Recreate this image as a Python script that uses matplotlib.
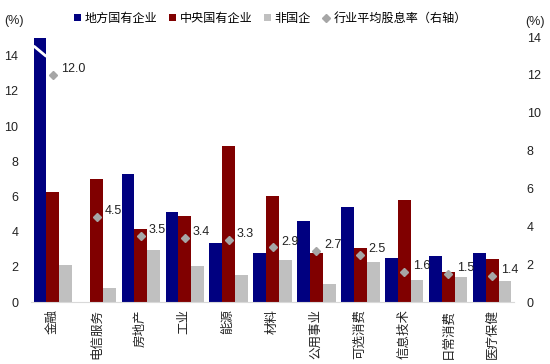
import numpy as np
from matplotlib import pyplot as plt

plt.rcParams['font.family'] = ['Liberation Sans', 'Noto Sans CJK SC']

categories = ['金融', '电信服务', '房地产', '工业', '能源', '材料',
              '公用事业', '可选消费', '信息技术', '日常消费', '医疗保健']
local_soe = [15.0, 0.0, 7.27, 5.1, 3.37, 2.8, 4.6, 5.42, 2.5, 2.6, 2.77]
central_soe = [6.23, 7.0, 4.13, 4.9, 8.88, 6.02, 2.8, 3.1, 5.8, 1.72, 2.43]
non_soe = [2.1, 0.83, 2.95, 2.06, 1.53, 2.39, 1.04, 2.27, 1.27, 1.4, 1.21]
avg_yield = [12.0, 4.5, 3.5, 3.4, 3.3, 2.9, 2.7, 2.5, 1.6, 1.5, 1.4]

fig = plt.figure(figsize=(5.5, 3.64), dpi=100)
ax = fig.add_axes([0.056, 0.170, 0.879, 0.728])
ax2 = ax.twinx()

x = np.arange(len(categories))
w = 0.29
b1 = ax.bar(x - w, local_soe, w, color='#000080', label='地方国有企业')
b2 = ax.bar(x, central_soe, w, color='#800000', label='中央国有企业')
b3 = ax.bar(x + w, non_soe, w, color='#C0C0C0', label='非国企')

# break mark on the truncated first bar
ax.plot([x[0] - 1.5 * w, x[0] - 0.5 * w], [14.55, 13.95], color='white', lw=2.0,
        solid_capstyle='butt', clip_on=True)

d, = ax2.plot(x, avg_yield, linestyle='none', marker='D', markersize=4.5,
              color='#A6A6A6', label='行业平均股息率（右轴）')
for xi, v in zip(x, avg_yield):
    ax2.annotate('{:.1f}'.format(v), (xi, v), xytext=(6, 4),
                 textcoords='offset points', fontsize=9, va='center',
                 color='#222222')

ax.set_xlim(-0.5, len(categories) - 0.5)
ax.set_ylim(0, 15.05)
ax2.set_ylim(0, 14)
ax.set_yticks(np.arange(0, 15, 2))
ax2.set_yticks(np.arange(0, 15, 2))
ax.set_xticks(x)
ax.set_xticklabels(categories, rotation=90, fontsize=9)

for a in (ax, ax2):
    for s in ('top', 'left', 'right'):
        a.spines[s].set_visible(False)
    a.tick_params(length=0, labelsize=9, colors='#222222')
ax.tick_params(axis='x', labelsize=9)
ax.spines['bottom'].set_color('#D9D9D9')
ax2.spines['bottom'].set_visible(False)
ax.tick_params(axis='y', pad=9)
ax.tick_params(axis='x', pad=5)
ax2.tick_params(axis='y', pad=9)

fig.text(0.008, 0.935, '(%)', fontsize=9, color='#222222')
fig.text(0.955, 0.93, '(%)', fontsize=9, color='#222222')

fig.legend(handles=[b1, b2, b3, d], loc='upper left',
           bbox_to_anchor=(0.115, 0.995), ncol=4, frameon=False,
           fontsize=8.7, handlelength=0.55, handleheight=0.55,
           handletextpad=0.3, columnspacing=1.0, markerscale=0.9)

fig.savefig('out.png', dpi=100)
